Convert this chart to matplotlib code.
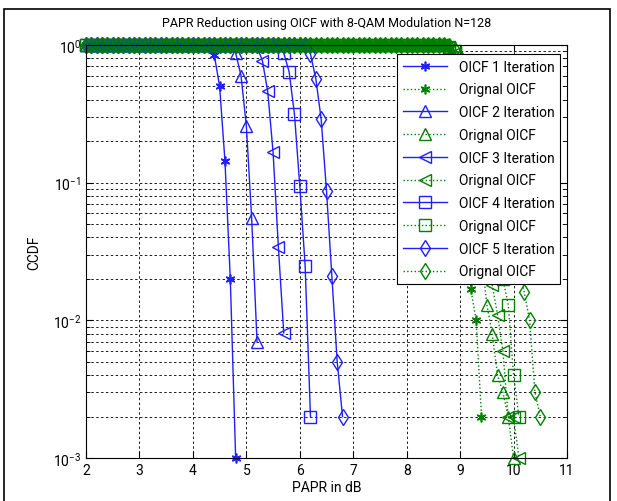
import numpy as np
import matplotlib.pyplot as plt
from matplotlib.patches import Rectangle

plt.rcParams['font.family'] = ['Roboto', 'DejaVu Sans']
plt.rcParams['mathtext.default'] = 'regular'

# grid of PAPR thresholds used by the simulation (dB)
passo = 0.1
papr_ini = 2.0

# OICF (clipping + filtering) after 1..5 iterations - points where CCDF < 1
papr_it1 = [4.4, 4.5, 4.6, 4.7, 4.8]
ccdf_it1 = [0.85, 0.5, 0.144, 0.02, 0.001]
papr_it2 = [4.8, 4.9, 5.0, 5.1, 5.2]
ccdf_it2 = [0.875, 0.6, 0.26, 0.055, 0.007]
papr_it3 = [5.2, 5.3, 5.4, 5.5, 5.6, 5.7]
ccdf_it3 = [0.97, 0.77, 0.46, 0.167, 0.034, 0.0081]
papr_it4 = [5.7, 5.8, 5.9, 6.0, 6.1, 6.2]
ccdf_it4 = [0.875, 0.64, 0.316, 0.095, 0.025, 0.002]
papr_it5 = [6.2, 6.3, 6.4, 6.5, 6.6, 6.7, 6.8]
ccdf_it5 = [0.86, 0.57, 0.29, 0.087, 0.021, 0.005, 0.002]

# original signal curves (green)
papr_or1 = [8.8, 8.9, 9.0, 9.1, 9.2, 9.3, 9.4]
ccdf_or1 = [0.97, 0.8, 0.4, 0.08, 0.017, 0.01, 0.002]
papr_or2 = [8.8, 8.9, 9.0, 9.1, 9.2, 9.3, 9.4, 9.5, 9.6, 9.7, 9.8, 9.9, 10.0]
ccdf_or2 = [0.97, 0.85, 0.6, 0.35, 0.15, 0.06, 0.03, 0.013, 0.008, 0.004, 0.003, 0.002, 0.001]
papr_or3 = [8.8, 8.9, 9.0, 9.1, 9.2, 9.3, 9.4, 9.5, 9.6, 9.7, 9.8, 9.9, 10.0, 10.1]
ccdf_or3 = [0.97, 0.88, 0.7, 0.45, 0.25, 0.12, 0.06, 0.03, 0.018, 0.011, 0.006, 0.002, 0.002, 0.001]
papr_or4 = [8.8, 8.9, 9.0, 9.1, 9.2, 9.3, 9.4, 9.5, 9.6, 9.7, 9.8, 9.9, 10.0, 10.1]
ccdf_or4 = [0.97, 0.9, 0.75, 0.55, 0.33, 0.18, 0.09, 0.05, 0.032, 0.024, 0.02, 0.013, 0.004, 0.002]
papr_or5 = [8.8, 8.9, 9.0, 9.1, 9.2, 9.3, 9.4, 9.5, 9.6, 9.7, 9.8, 9.9, 10.0, 10.1, 10.2, 10.3, 10.4, 10.5]
ccdf_or5 = [0.98, 0.92, 0.82, 0.68, 0.52, 0.38, 0.26, 0.17, 0.11, 0.075, 0.05, 0.038, 0.03, 0.024, 0.016, 0.01, 0.003, 0.002]

marcadores = [(6, 2, 0), '^', '<', 's', 'd']
tam = [7, 9, 9, 8, 8]
oicf = [(papr_it1, ccdf_it1), (papr_it2, ccdf_it2), (papr_it3, ccdf_it3),
        (papr_it4, ccdf_it4), (papr_it5, ccdf_it5)]
orig = [(papr_or1, ccdf_or1), (papr_or2, ccdf_or2), (papr_or3, ccdf_or3),
        (papr_or4, ccdf_or4), (papr_or5, ccdf_or5)]


def com_patamar(px, cy):
    # CCDF stays at 1 from papr_ini up to the first point of the drop
    n = int(round((px[0] - papr_ini) / passo))
    x = np.concatenate([papr_ini + passo * np.arange(n), px])
    y = np.concatenate([np.ones(n), cy])
    return x, y


fig = plt.figure(figsize=(6.17, 5.02), dpi=100)
ax = fig.add_axes([86/617, 1-459/502, 481/617, 413/502])

azul = '#1f1fff'
verde = '#008000'
for i in range(5):
    x, y = com_patamar(*oicf[i])
    ax.semilogy(x, y, '-', color=azul, lw=1, marker=marcadores[i], ms=tam[i],
                mfc='none', mec=azul, mew=1.2 if i == 0 else 1, clip_on=False,
                label='OICF %d Iteration' % (i+1))
    x, y = com_patamar(*orig[i])
    ax.semilogy(x, y, ':', color=verde, lw=1, marker=marcadores[i], ms=tam[i],
                mfc='none', mec=verde, mew=1.2 if i == 0 else 1, clip_on=False,
                label='Orignal OICF')

ax.set_xlim(2, 11)
ax.set_ylim(1e-3, 1)
ax.set_xticks(range(2, 12))
ax.grid(True, which='major', color='0.1', ls=(0, (2.5, 2.5)), lw=0.7)
ax.grid(True, which='minor', axis='y', color='0.1', ls=(0, (2.5, 2.5)), lw=0.7)
ax.tick_params(which='both', direction='in', top=True, right=True, labelsize=10)
ax.tick_params(which='major', length=5)
ax.tick_params(which='minor', length=3)
for s in ax.spines.values():
    s.set_linewidth(0.8)

ax.set_title('PAPR Reduction using OICF with 8-QAM Modulation N=128', fontsize=9, pad=14)
ax.set_xlabel('PAPR in dB', fontsize=10, labelpad=2)
ax.set_ylabel('CCDF', fontsize=10, labelpad=8)

leg = ax.legend(loc='upper right', bbox_to_anchor=(0.9854, 0.978), borderaxespad=0,
                fontsize=10, numpoints=1, handlelength=3.2, labelspacing=0.63,
                fancybox=False, framealpha=1, edgecolor='black')
leg.get_frame().set_linewidth(0.8)

# moldura em volta da figura
fig.add_artist(Rectangle((4/617, -0.05), 606/617, 1.05 - 10/502, fill=False,
                         ec='black', lw=1.2, transform=fig.transFigure))

plt.savefig('out.png', dpi=100)
